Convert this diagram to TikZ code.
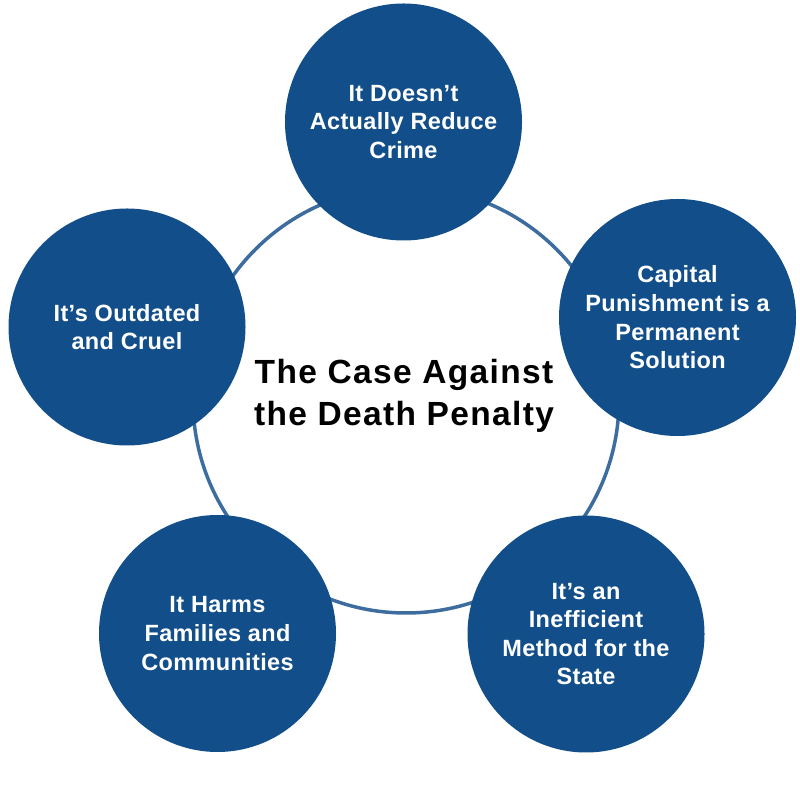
\documentclass[tikz,border=0pt]{standalone}
\usepackage{fontspec}
\setmainfont{Liberation Sans}
\newfontfamily\circfont[LetterSpace=1.5]{Liberation Sans}
\newfontfamily\titlefont[LetterSpace=4]{Liberation Sans}
\definecolor{bubble}{HTML}{124F8A}
\definecolor{ringcol}{HTML}{3D6C9F}
\begin{document}
\begin{tikzpicture}[x=1pt,y=1pt,
  bubble/.style={circle, fill=bubble, minimum size=237pt, inner sep=0pt, text=white,
    align=center, font=\circfont\bfseries\fontsize{23.5}{28.6}\selectfont},
  ringstyle/.style={circle, draw=ringcol, line width=3.5pt, minimum size=426pt, inner sep=0pt},
  titlestyle/.style={align=center, text=black, font=\titlefont\bfseries\fontsize{33.5}{42}\selectfont}]
\useasboundingbox (0,0) rectangle (800,800);
\node[ringstyle] (ring) at (406,400) {};
\node[bubble] (top) at (403.5,678) {It Doesn’t\\Actually Reduce\\Crime};
\node[bubble] (right) at (677.5,482.5) {Capital\\Punishment is a\\Permanent\\Solution};
\node[bubble] (bright) at (586,166) {It’s an\\Inefficient\\Method for the\\State};
\node[bubble] (bleft) at (217.5,166.5) {It Harms\\Families and\\Communities};
\node[bubble] (left) at (127,473) {It’s Outdated\\and Cruel};
\node[titlestyle] (title) at (404,404) {The Case Against\\the Death Penalty};
\end{tikzpicture}
\end{document}
